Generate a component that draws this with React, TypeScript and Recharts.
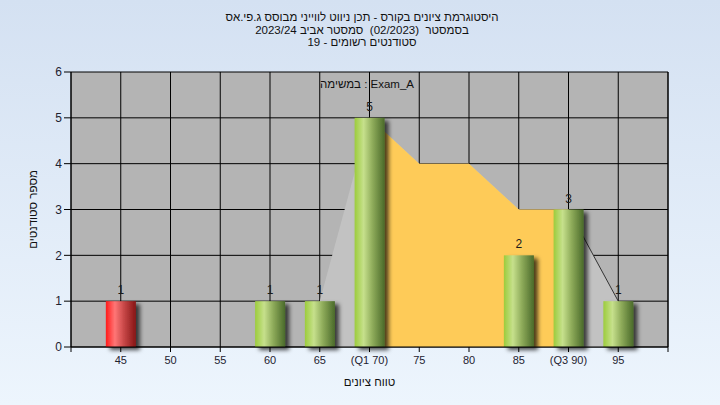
import React from 'react';
import {
  ComposedChart,
  Bar,
  Area,
  XAxis,
  YAxis,
  CartesianGrid,
  LabelList
} from 'recharts';

// grade bins (x axis) and number of students in each bin
const grades = [40, 45, 50, 55, 60, 65, 70, 75, 80, 85, 90, 95, 100];
const studentCounts = [0, 1, 0, 0, 1, 1, 5, 0, 0, 2, 3, 1, 0];
// envelope drawn behind the bars: grey outside the quartiles, yellow Q1..Q3
const envelopeOuter = [null, null, null, null, null, 1, 5, 4, 4, 3, 3, 1, null];
const envelopeQuartile = [null, null, null, null, null, null, 5, 4, 4, 3, 3, null, null];
const tailLine = [null, null, null, null, null, null, null, null, null, null, 3, 1, null];
const tickLabels = ['', '45', '50', '55', '60', '65', '(Q1 70)', '75', '80', '85', '(Q3 90)', '95', ''];
const yTicks = [0, 1, 2, 3, 4, 5, 6];
const passGrade = 55;

const titleLines = [
  'היסטוגרמת ציונים בקורס - תכן ניווט לווייני מבוסס ג.פי.אס',
  'בסמסטר  (02/2023)  סמסטר אביב 2023/24',
  'סטודנטים רשומים - 19'
];
const taskNote = 'במשימה : Exam_A';
const xTitle = 'טווח ציונים';
const yTitle = 'מספר סטודנטים';

const data = grades.map((g, i) => ({
  grade: g,
  count: studentCounts[i],
  outer: envelopeOuter[i],
  quartile: envelopeQuartile[i],
  tail: tailLine[i]
}));

const font = "'Liberation Sans', Arial, sans-serif";
const tickStyle = { fontSize: 11, fill: '#1e2230', fontFamily: font };

const CylinderBar = (props: any) => {
  const { x, y, width, height, payload } = props;
  if (!height || height <= 0) return null;
  const fail = payload.grade < passGrade;
  return (
    <rect
      x={x}
      y={y}
      width={width}
      height={height}
      fill={fail ? 'url(#gradRed)' : 'url(#gradGreen)'}
      filter="url(#barShadow)"
    />
  );
};

export default function App() {
  return (
    <div
      style={{
        position: 'absolute',
        left: 0,
        top: 0,
        width: 720,
        height: 405,
        background: 'linear-gradient(180deg, #d4e1f2 0%, #edf5fd 100%)',
        fontFamily: font
      }}
    >
      <div
        style={{
          position: 'absolute',
          top: 11,
          left: 0,
          width: 724,
          textAlign: 'center',
          fontSize: 11.5,
          lineHeight: '12.5px',
          color: '#111',
          whiteSpace: 'pre'
        }}
      >
        {titleLines.map((t) => (
          <div key={t}>{t}</div>
        ))}
      </div>
      <ComposedChart
        width={720}
        height={405}
        data={data}
        margin={{ top: 72, right: 12, bottom: 18, left: 31 }}
      >
        <defs>
          <linearGradient id="gradGreen" x1="0" y1="0" x2="1" y2="0">
            <stop offset="0%" stopColor="#9ccc3c" />
            <stop offset="30%" stopColor="#c6e08c" />
            <stop offset="60%" stopColor="#8eab5a" />
            <stop offset="100%" stopColor="#4a6a2a" />
          </linearGradient>
          <linearGradient id="gradRed" x1="0" y1="0" x2="1" y2="0">
            <stop offset="0%" stopColor="#ff1c1c" />
            <stop offset="30%" stopColor="#ff7676" />
            <stop offset="60%" stopColor="#c84848" />
            <stop offset="100%" stopColor="#851414" />
          </linearGradient>
          <filter id="barShadow" x="-20%" y="-10%" width="170%" height="130%">
            <feDropShadow dx="4" dy="3" stdDeviation="2.2" floodColor="#000" floodOpacity="0.7" />
          </filter>
        </defs>
        <CartesianGrid stroke="#000" strokeWidth={1} fill="#b4b4b4" fillOpacity={1} />
        <XAxis
          dataKey="grade"
          type="number"
          domain={[40, 100]}
          ticks={grades}
          interval={0}
          tickFormatter={(v: number) => tickLabels[grades.indexOf(v)] ?? ''}
          tick={tickStyle}
          tickSize={5}
          tickMargin={4}
          stroke="#000"
          height={40}
          label={{
            value: xTitle,
            position: 'insideBottom',
            offset: 1,
            style: { fontSize: 11.5, fill: '#111', fontFamily: font }
          }}
        />
        <YAxis
          domain={[0, 6]}
          ticks={yTicks}
          interval={0}
          tick={{ ...tickStyle, fontSize: 12 }}
          tickSize={7}
          tickMargin={2}
          stroke="#000"
          width={40}
          label={{
            value: yTitle,
            angle: -90,
            position: 'insideLeft',
            offset: 2,
            style: { fontSize: 11.5, fill: '#111', fontFamily: font, textAnchor: 'middle' }
          }}
        />
        <YAxis
          yAxisId="right"
          orientation="right"
          domain={[0, 6]}
          ticks={yTicks}
          interval={0}
          tick={{ ...tickStyle, fontSize: 12 }}
          tickSize={7}
          tickMargin={2}
          stroke="#000"
          width={40}
        />
        <Area
          type="linear"
          dataKey="outer"
          fill="#c2c2c2"
          fillOpacity={1}
          stroke="none"
          dot={false}
          activeDot={false}
          isAnimationActive={false}
        />
        <Area
          type="linear"
          dataKey="quartile"
          fill="#fecb58"
          fillOpacity={1}
          stroke="none"
          dot={false}
          activeDot={false}
          isAnimationActive={false}
        />
        <Area
          type="linear"
          dataKey="tail"
          fill="none"
          stroke="#333"
          strokeWidth={1}
          dot={false}
          activeDot={false}
          isAnimationActive={false}
        />
        <Bar dataKey="count" barSize={30} shape={<CylinderBar />} isAnimationActive={false}>
          <LabelList
            dataKey="count"
            position="top"
            offset={7}
            formatter={(v: any) => (v ? v : '')}
            style={{ fontSize: 12, fill: '#1a1a1a', fontFamily: font }}
          />
        </Bar>
      </ComposedChart>
      <div
        style={{
          position: 'absolute',
          top: 78,
          left: 267,
          width: 200,
          textAlign: 'center',
          fontSize: 11.5,
          color: '#111'
        }}
      >
        {taskNote}
      </div>
    </div>
  );
}
